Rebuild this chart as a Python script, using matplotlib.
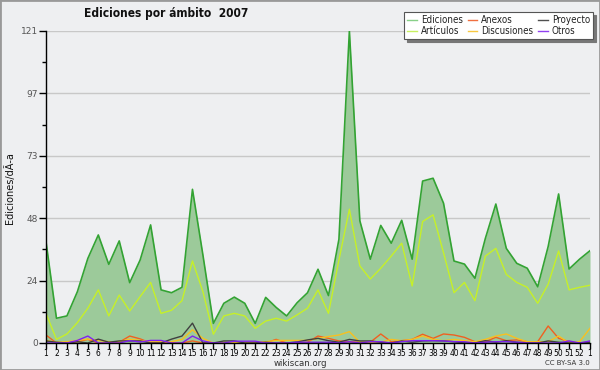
import numpy as np
import matplotlib
matplotlib.use("Agg")
import matplotlib.pyplot as plt
from matplotlib.patches import Rectangle
from matplotlib.lines import Line2D

plt.rcParams['font.family'] = ['DejaVu Sans']

weeks = list(range(1, 54))
week_labels = [str(w) for w in range(1, 53)] + ["1"]

ediciones = [39.3, 9.6, 10.5, 19.9, 32.8, 41.9, 30.5, 39.6, 23.4, 32.2,
             45.8, 20.6, 19.5, 21.6, 59.6, 34.1, 7.6, 15.4, 17.8, 15.4,
             7.6, 17.7, 13.8, 10.5, 15.6, 19.5, 28.6, 18.4, 40.2, 121.0,
             47.4, 32.5, 45.6, 38.7, 47.6, 32.5, 62.8, 63.9, 54.2, 31.8,
             30.6, 25.1, 40.6, 53.9, 36.7, 30.9, 29.0, 21.8, 37.4, 57.8,
             28.7, 32.5, 35.8]
articulos = [11.5, 1.4, 3.5, 7.9, 13.5, 20.6, 10.5, 18.6, 12.4, 18.0,
             23.5, 11.5, 12.7, 16.4, 31.8, 19.9, 3.4, 10.5, 11.5, 10.5,
             5.7, 8.5, 9.6, 8.5, 10.9, 13.5, 20.6, 11.5, 32.2, 51.9,
             29.9, 24.8, 29.0, 33.7, 38.7, 22.1, 47.1, 49.7, 35.0, 19.5,
             23.5, 16.4, 33.7, 36.7, 26.6, 23.5, 21.6, 15.4, 22.8, 35.7,
             20.6, 21.6, 22.4]
anexos = [3.1, 0, 0, 0.5, 1.4, 0, 0, 0.3, 2.7, 1.6,
          0, 0.4, 0, 0, 0.8, 0, 0, 0, 0, 0,
          0, 0, 1.4, 0, 0, 0.3, 2.7, 1.8, 0.8, 0.5,
          0.3, 0.3, 3.5, 0.5, 0.9, 1.4, 3.4, 1.8, 3.5, 3.1,
          2.2, 0.5, 0.5, 2.2, 0.9, 1.2, 0.5, 0.5, 6.6, 1.8,
          0.5, 0, 0.5]
discusiones = [1.0, 0.3, 0.5, 1.0, 1.5, 1.0, 0.5, 0.5, 1.5, 1.0,
               0.5, 0.5, 0.5, 1.4, 5.1, 1.8, 0, 0.3, 0.3, 0.3,
               0.5, 0.5, 1.0, 1.0, 1.0, 1.0, 1.8, 2.5, 3.1, 4.4,
               0.3, 0.3, 0.3, 1.4, 0.9, 1.4, 2.7, 1.4, 0.9, 1.4,
               0.9, 0.5, 1.4, 2.7, 3.5, 1.8, 0.5, 0.5, 0.5, 2.7,
               0, 0.5, 5.7]
proyecto = [0.8, 0.3, 0, 0.5, 0, 1.5, 0.3, 0.8, 0.8, 0.8,
            0, 0, 1.5, 2.7, 7.7, 0, 0, 0.8, 0.8, 0,
            0, 0.3, 0, 0, 0.4, 1.2, 1.8, 0.9, 0.3, 1.4,
            0.8, 0.8, 0.3, 0, 0.8, 0.3, 0.8, 0.9, 0.8, 0.5,
            0, 0, 0.9, 0.3, 0.9, 0.3, 0, 0, 0.8, 0.3,
            0, 0, 0.3]
otros = [0, 0, 0, 1.0, 2.7, 0, 0, 0, 0.9, 0.4,
         1.0, 1.0, 0, 0, 2.7, 0.8, 0, 0, 0.7, 0.7,
         0.7, 0, 0, 0, 0.3, 0.3, 0.3, 0.3, 0, 0.5,
         0, 0.5, 0.5, 0, 0.5, 0.9, 0.9, 0.9, 0.8, 0.5,
         0.5, 0, 0.3, 0.5, 0.5, 0.3, 0, 0, 0, 0,
         0.8, 0, 0.8]

ymax = 121
ytick_labels = ["0", "24", "48", "73", "97", "121"]

bg = "#eeeff1"
fig = plt.figure(figsize=(6, 3.7), dpi=100, facecolor=bg)
ax = fig.add_axes([46 / 600, 27 / 370, 544 / 600, 312 / 370], facecolor=bg)

ax.fill_between(weeks, ediciones, 0, color="#9cca9a", lw=0, zorder=2)
ax.plot(weeks, ediciones, color="#33a333", lw=1.2, zorder=3, label="Ediciones")
ax.plot(weeks, articulos, color="#c6f028", lw=1, zorder=4, label="Artículos")
ax.plot(weeks, anexos, color="#f06020", lw=1, zorder=5, label="Anexos")
ax.plot(weeks, discusiones, color="#f8c020", lw=1, zorder=5, label="Discusiones")
ax.plot(weeks, proyecto, color="#404040", lw=1, zorder=5, label="Proyecto")
ax.plot(weeks, otros, color="#8020f0", lw=1, zorder=6, label="Otros")

ax.set_xlim(1, 53)
ax.set_ylim(0, ymax)

yt = np.linspace(0, ymax, 6)
ax.set_yticks(yt)
ax.set_yticklabels(ytick_labels)
ax.set_yticks((yt[:-1] + yt[1:]) / 2, minor=True)
ax.yaxis.grid(True, color="#c8c8c8", lw=1, zorder=1)
ax.set_axisbelow(True)
ax.tick_params(axis="y", which="major", length=5, width=1, color="black",
               labelsize=6.5, labelcolor="#555555", pad=1)
ax.tick_params(axis="y", which="minor", length=3, width=1, color="black")

ax.set_xticks(weeks)
ax.set_xticklabels(week_labels, fontstretch="condensed")
ax.tick_params(axis="x", length=4, width=1, color="black", labelsize=6,
               labelcolor="black", pad=0.5)

for s in ["top", "right"]:
    ax.spines[s].set_visible(False)
for s in ["left", "bottom"]:
    ax.spines[s].set_color("black")
    ax.spines[s].set_linewidth(1)
    ax.spines[s].set_zorder(7)

# legend uses lighter swatches than the plotted lines
labels = ax.get_legend_handles_labels()[1]
leg_colors = ["#88d088", "#c8f060", "#f07040", "#f8c840", "#505050", "#9040f0"]
handles = [Line2D([], [], color=c, lw=1) for c in leg_colors]
leg = fig.legend(handles, labels, ncol=3, loc="upper right",
                 bbox_to_anchor=(593 / 600, 1 - 12 / 370),
                 prop={"size": 7, "stretch": "condensed"},
                 frameon=True, fancybox=False, shadow={"color": "#777777", "alpha": 1},
                 edgecolor="#555555", framealpha=1, handlelength=1.0,
                 handletextpad=0.4, columnspacing=0.5, labelspacing=0.12,
                 borderpad=0.3, borderaxespad=0)
leg.get_frame().set_linewidth(0.8)
for t in leg.get_texts():
    t.set_color("#222222")

fig.text(166 / 600, 1 - 14 / 370, "Ediciones por ámbito  2007", ha="center",
         va="center", fontsize=8.6, fontweight="bold", fontstretch="condensed",
         color="#111111")
fig.text(10 / 600, 1 - 188 / 370, "Ediciones/dÃ\u00ada", rotation=90,
         ha="center", va="center", fontsize=7, color="#111111")
fig.text(300 / 600, 1 - 363 / 370, "wikiscan.org", ha="center", va="center",
         fontsize=6.2, color="#333333")
fig.text(590 / 600, 1 - 363 / 370, "CC BY-SA 3.0", ha="right", va="center",
         fontsize=5, color="#333333")

fig.patches.append(Rectangle((0, 0), 1, 1, transform=fig.transFigure,
                             fill=False, edgecolor="#999999", lw=2))

fig.savefig("out.png", dpi=100, facecolor=bg)
